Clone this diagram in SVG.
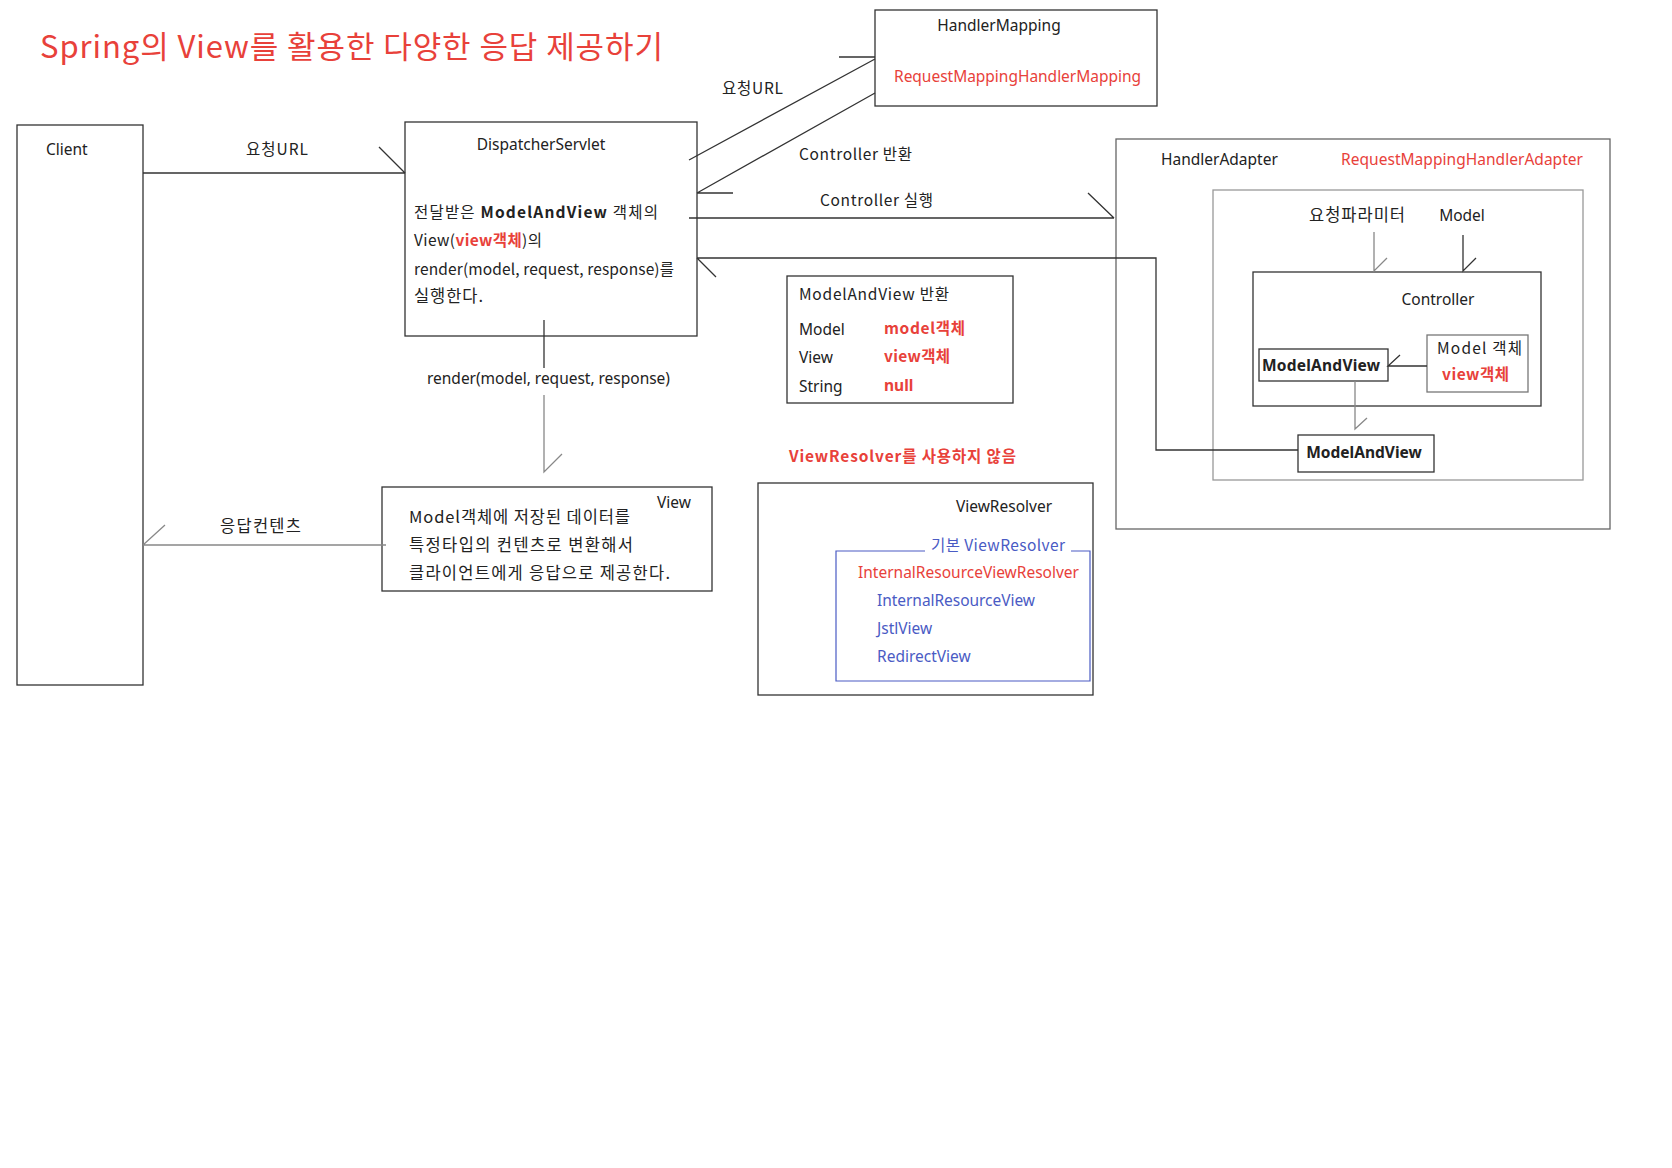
<svg xmlns="http://www.w3.org/2000/svg" width="1672" height="1168" viewBox="0 0 1672 1168">
<style>
text{font-family:"Noto Sans","Noto Sans CJK KR",sans-serif;font-size:15.5px;fill:#222}
.kr{font-family:"Noto Sans CJK KR","Noto Sans",sans-serif}
.big{font-size:16.5px}
.red{fill:#e8413a}
.blue{fill:#4a5bc4}
.b{font-weight:bold}
.box{fill:#fff;stroke:#333;stroke-width:1.3}
.gbox{fill:none;stroke:#999;stroke-width:1.3}
.ln{fill:none;stroke:#333;stroke-width:1.3}
.gl{fill:none;stroke:#888;stroke-width:1.3}
.mid{text-anchor:middle}
</style>
<rect width="1672" height="1168" fill="#fff"/>
<text class="kr red" x="40" y="58" style="font-size:31px" textLength="623" lengthAdjust="spacing">Spring의 View를 활용한 다양한 응답 제공하기</text>

<g id="client">
<rect class="box" x="17" y="125" width="126" height="560"/>
<text x="46" y="155">Client</text>
</g>

<g id="dispatcher">
<rect class="box" x="405" y="122" width="292" height="214"/>
<text class="mid" x="541" y="150">DispatcherServlet</text>
<text class="kr" x="414" y="218" textLength="244" lengthAdjust="spacing">전달받은 <tspan class="b">ModelAndView</tspan> 객체의</text>
<text class="kr" x="414" y="246" textLength="128" lengthAdjust="spacing">View(<tspan class="red b">view객체</tspan>)의</text>
<text class="kr" x="414" y="275" textLength="260" lengthAdjust="spacing">render(model, request, response)를</text>
<text class="kr big" x="414" y="302" textLength="69" lengthAdjust="spacing">실행한다.</text>
</g>

<g id="handlerMapping">
<rect class="box" x="875" y="10" width="282" height="96"/>
<text class="mid" x="999" y="31">HandlerMapping</text>
<text class="red" x="894" y="82" textLength="247" lengthAdjust="spacing">RequestMappingHandlerMapping</text>
</g>

<g id="handlerAdapter">
<rect class="box" x="1116" y="139" width="494" height="390" style="stroke:#666"/>
<text x="1161" y="165">HandlerAdapter</text>
<text class="red" x="1341" y="165" textLength="242" lengthAdjust="spacing">RequestMappingHandlerAdapter</text>
<rect class="gbox" x="1213" y="190" width="370" height="290"/>
<text class="kr big" x="1309" y="221" textLength="96" lengthAdjust="spacing">요청파라미터</text>
<text class="mid" x="1462" y="221">Model</text>
</g>

<g id="controller">
<rect class="box" x="1253" y="272" width="288" height="134"/>
<text class="mid" x="1438" y="305">Controller</text>
</g>

<g id="mavInner">
<rect class="box" x="1259" y="349" width="129" height="32"/>
<text class="b" x="1262" y="371" textLength="118" lengthAdjust="spacing">ModelAndView</text>
</g>

<g id="modelObj">
<rect class="gbox" x="1427" y="335" width="101" height="57" style="stroke:#777"/>
<text class="kr" x="1437" y="354" textLength="85" lengthAdjust="spacing">Model 객체</text>
<text class="kr red b" x="1442" y="380" textLength="67" lengthAdjust="spacing">view객체</text>
</g>

<g id="mavOuter">
<rect class="box" x="1298" y="435" width="136" height="37"/>
<text class="mid b" x="1364" y="458">ModelAndView</text>
</g>

<g id="mavReturn">
<rect class="box" x="787" y="276" width="226" height="127"/>
<text class="kr" x="799" y="300" textLength="150" lengthAdjust="spacing">ModelAndView 반환</text>
<text x="799" y="335">Model</text>
<text class="kr red b" x="884" y="334" textLength="81" lengthAdjust="spacing">model객체</text>
<text x="799" y="363">View</text>
<text class="kr red b" x="884" y="362" textLength="66" lengthAdjust="spacing">view객체</text>
<text x="799" y="392">String</text>
<text class="red b" x="884" y="391">null</text>
</g>

<g id="view">
<rect class="box" x="382" y="487" width="330" height="104"/>
<text class="mid" x="674" y="508">View</text>
<text class="kr big" x="409" y="523" textLength="221" lengthAdjust="spacing">Model객체에 저장된 데이터를</text>
<text class="kr big" x="409" y="551" textLength="224" lengthAdjust="spacing">특정타입의 컨텐츠로 변환해서</text>
<text class="kr big" x="409" y="579" textLength="261" lengthAdjust="spacing">클라이언트에게 응답으로 제공한다.</text>
</g>

<g id="viewResolver">
<text class="kr red b" x="789" y="462" textLength="227" lengthAdjust="spacing">ViewResolver를 사용하지 않음</text>
<rect class="box" x="758" y="483" width="335" height="212"/>
<text class="mid" x="1004" y="512">ViewResolver</text>
<path d="M925 551 H836 V681 H1090 V551 H1071" fill="none" stroke="#4a5bc4" stroke-width="1.2"/>
<text class="kr blue" x="931" y="551" textLength="134" lengthAdjust="spacing">기본 ViewResolver</text>
<text class="red" x="858" y="578" textLength="221" lengthAdjust="spacing">InternalResourceViewResolver</text>
<text class="blue" x="877" y="606" textLength="158" lengthAdjust="spacing">InternalResourceView</text>
<text class="blue" x="877" y="634">JstlView</text>
<text class="blue" x="877" y="662">RedirectView</text>
</g>

<g id="connectors">
<path class="ln" d="M143 173 H405 M379 147 L405 173"/>
<text class="kr" x="246" y="155" textLength="62" lengthAdjust="spacing">요청URL</text>

<path class="ln" d="M689 160 L875 59 M839 57 H875"/>
<text class="kr" x="722" y="94" textLength="61" lengthAdjust="spacing">요청URL</text>

<path class="ln" d="M875 93 L697 193 M697 193 H733"/>
<text class="kr" x="799" y="160" textLength="113" lengthAdjust="spacing">Controller 반환</text>

<path class="ln" d="M689 218 H1114 M1088 193 L1114 218"/>
<text class="kr" x="820" y="206" textLength="113" lengthAdjust="spacing">Controller 실행</text>

<path class="ln" d="M1298 450 H1156 V258 H697 M697 258 L716 277"/>

<path class="ln" d="M544 320 V368"/>
<text x="427" y="384" textLength="243" lengthAdjust="spacing">render(model, request, response)</text>
<path class="gl" d="M544 395 V472 L562 454"/>

<path class="gl" d="M386 545 H143 M143 545 L165 525"/>
<text class="kr big" x="220" y="532" textLength="81" lengthAdjust="spacing">응답컨텐츠</text>

<path class="gl" d="M1374 232 V271 L1387 258"/>
<path class="ln" d="M1463 235 V271 L1476 258"/>
<path class="ln" d="M1427 366 H1388 L1400 355"/>
<path class="gl" d="M1355 381 V429 L1367 418"/>
</g>
</svg>
